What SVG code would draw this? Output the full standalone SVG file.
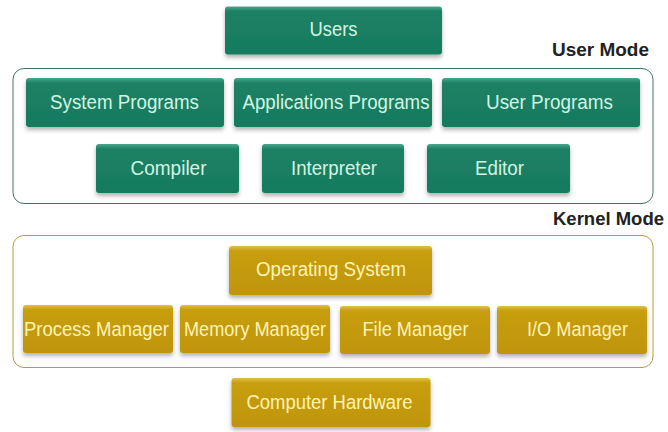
<svg xmlns="http://www.w3.org/2000/svg" width="668" height="432" viewBox="0 0 668 432">
<defs>
<linearGradient id="gGreen" x1="0" y1="0" x2="0" y2="1">
<stop offset="0" stop-color="#4aa78c"/>
<stop offset="0.1" stop-color="#1d8164"/>
<stop offset="1" stop-color="#177a5e"/>
</linearGradient>
<linearGradient id="gGold" x1="0" y1="0" x2="0" y2="1">
<stop offset="0" stop-color="#e2bf4c"/>
<stop offset="0.1" stop-color="#c79e0e"/>
<stop offset="1" stop-color="#c09507"/>
</linearGradient>
<filter id="sh" x="-10%" y="-20%" width="120%" height="150%">
<feDropShadow dx="0" dy="3" stdDeviation="2" flood-color="#000" flood-opacity="0.3"/>
</filter>
</defs>
<style>
.g{fill:url(#gGreen);filter:url(#sh)}
.o{fill:url(#gGold);filter:url(#sh)}
.tg{font-family:"Liberation Sans",Arial,sans-serif;font-size:20px;fill:#cff6e4}
.to{font-family:"Liberation Sans",Arial,sans-serif;font-size:20px;fill:#fff3b4}
.lbl{font-family:"Liberation Sans",Arial,sans-serif;font-size:18px;font-weight:bold;fill:#222}
.frameG{fill:none;stroke:#3f7466;stroke-width:1}
.frameO{fill:none;stroke:#b9993d;stroke-width:1}
</style>
<rect width="668" height="432" fill="#fff"/>
<g id="user-mode-frame"><rect class="frameG" x="13" y="68.5" width="640" height="135" rx="11"/></g>
<g id="kernel-mode-frame"><rect class="frameO" x="13" y="235.5" width="640" height="132" rx="11"/></g>
<g id="label-user-mode"><text class="lbl" x="552" y="55.5" textLength="97" lengthAdjust="spacingAndGlyphs">User Mode</text></g>
<g id="label-kernel-mode"><text class="lbl" x="553" y="225" textLength="111" lengthAdjust="spacingAndGlyphs">Kernel Mode</text></g>

<g id="users"><rect class="g" x="225" y="6.5" width="217" height="48" rx="3"/><text class="tg" x="309.5" y="36" textLength="48" lengthAdjust="spacingAndGlyphs">Users</text></g>
<g id="system-programs"><rect class="g" x="26" y="78" width="198" height="49" rx="3"/><text class="tg" x="50" y="109" textLength="149" lengthAdjust="spacingAndGlyphs">System Programs</text></g>
<g id="applications-programs"><rect class="g" x="234" y="78" width="198" height="49" rx="3"/><text class="tg" x="242.5" y="109" textLength="187" lengthAdjust="spacingAndGlyphs">Applications Programs</text></g>
<g id="user-programs"><rect class="g" x="442" y="78" width="198" height="49" rx="3"/><text class="tg" x="486" y="109" textLength="127" lengthAdjust="spacingAndGlyphs">User Programs</text></g>
<g id="compiler"><rect class="g" x="96" y="144" width="143" height="49" rx="3"/><text class="tg" x="130.5" y="174.5" textLength="76" lengthAdjust="spacingAndGlyphs">Compiler</text></g>
<g id="interpreter"><rect class="g" x="262" y="144" width="142" height="49" rx="3"/><text class="tg" x="291" y="174.5" textLength="86" lengthAdjust="spacingAndGlyphs">Interpreter</text></g>
<g id="editor"><rect class="g" x="427" y="144" width="143" height="49" rx="3"/><text class="tg" x="475" y="174.5" textLength="49" lengthAdjust="spacingAndGlyphs">Editor</text></g>

<g id="operating-system"><rect class="o" x="229" y="246" width="203" height="49" rx="3"/><text class="to" x="256" y="276" textLength="150" lengthAdjust="spacingAndGlyphs">Operating System</text></g>
<g id="process-manager"><rect class="o" x="23" y="305" width="150" height="48" rx="3"/><text class="to" x="24" y="336" textLength="145" lengthAdjust="spacingAndGlyphs">Process Manager</text></g>
<g id="memory-manager"><rect class="o" x="180" y="305" width="150" height="48" rx="3"/><text class="to" x="184" y="336" textLength="142" lengthAdjust="spacingAndGlyphs">Memory Manager</text></g>
<g id="file-manager"><rect class="o" x="340" y="306" width="150" height="48" rx="3"/><text class="to" x="362.5" y="336" textLength="106" lengthAdjust="spacingAndGlyphs">File Manager</text></g>
<g id="io-manager"><rect class="o" x="497" y="306" width="150" height="48" rx="3"/><text class="to" x="527" y="336" textLength="101" lengthAdjust="spacingAndGlyphs">I/O Manager</text></g>
<g id="computer-hardware"><rect class="o" x="231.5" y="378" width="199" height="49" rx="3"/><text class="to" x="246.5" y="408.5" textLength="166" lengthAdjust="spacingAndGlyphs">Computer Hardware</text></g>
<g id="connectors"></g>
</svg>
